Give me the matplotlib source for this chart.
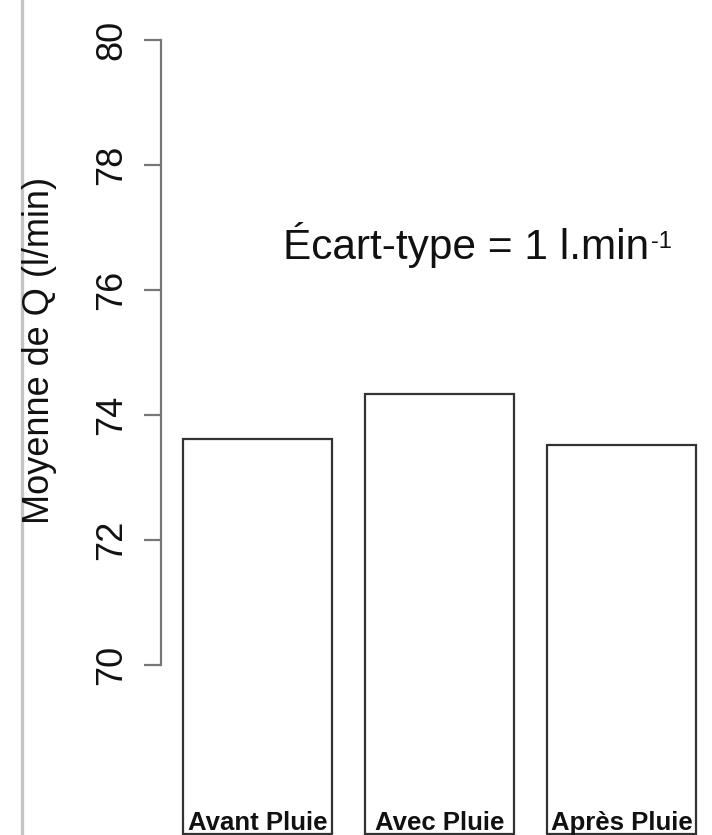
import matplotlib
matplotlib.use("Agg")
import matplotlib.pyplot as plt
from matplotlib.lines import Line2D

categories = ["Avant Pluie", "Avec Pluie", "Après Pluie"]
means = [73.62, 74.34, 73.52]
yticks = [70, 72, 74, 76, 78, 80]
ylabel = "Moyenne de Q (l/min)"
note_main = "Écart-type = 1 l.min"
note_sup = "-1"

plt.rcParams['font.family'] = ['Liberation Sans', 'DejaVu Sans']

W, H = 712, 835
fig = plt.figure(figsize=(W / 100, H / 100), dpi=100)
fig.patch.set_facecolor('white')

ax = fig.add_axes([161 / W, 0, (W - 161) / W, 1])
bottom_val = 67.3
xs = list(range(len(categories)))
ax.bar(xs, [m - bottom_val for m in means], bottom=bottom_val, width=0.82,
       facecolor='white', edgecolor='#333333', linewidth=1.6, zorder=2)
for x, c in zip(xs, categories):
    ax.text(x, bottom_val + 0.06, c, ha='center', va='baseline',
            fontsize=18.5, fontweight='bold', color='#111111')

ax.set_xlim(-0.53, 2.497)
ax.set_ylim(67.28, 80.64)
ax.set_xticks([])
ax.set_yticks(yticks)
ax.set_yticklabels([str(t) for t in yticks], rotation=90, va='center',
                   fontsize=26, color='#111111')
for s in ['top', 'right', 'bottom']:
    ax.spines[s].set_visible(False)
ax.spines['left'].set_bounds(70, 80)
ax.spines['left'].set_color('#777777')
ax.spines['left'].set_linewidth(1.6)
ax.tick_params(axis='y', length=12, width=1.6, color='#777777', pad=11)
ax.patch.set_alpha(0)

t = ax.text(-0.53 + (283 - 161) / 182, 76.49, note_main, ha='left', va='baseline',
            fontsize=30.5, color='#111111')
ax.annotate(note_sup, xy=(1, 0), xycoords=t, xytext=(1, 15),
            textcoords='offset points', ha='left', va='baseline',
            fontsize=17, color='#111111')

fig.text(40 / W, 1 - 350 / H, ylabel, rotation=90, ha='center', va='center',
         fontsize=26, color='#111111')

fig.add_artist(Line2D([22 / W, 22 / W], [0, 1], transform=fig.transFigure,
                      color='#c4c4c4', linewidth=2.4))

fig.savefig('out.png', dpi=100)
